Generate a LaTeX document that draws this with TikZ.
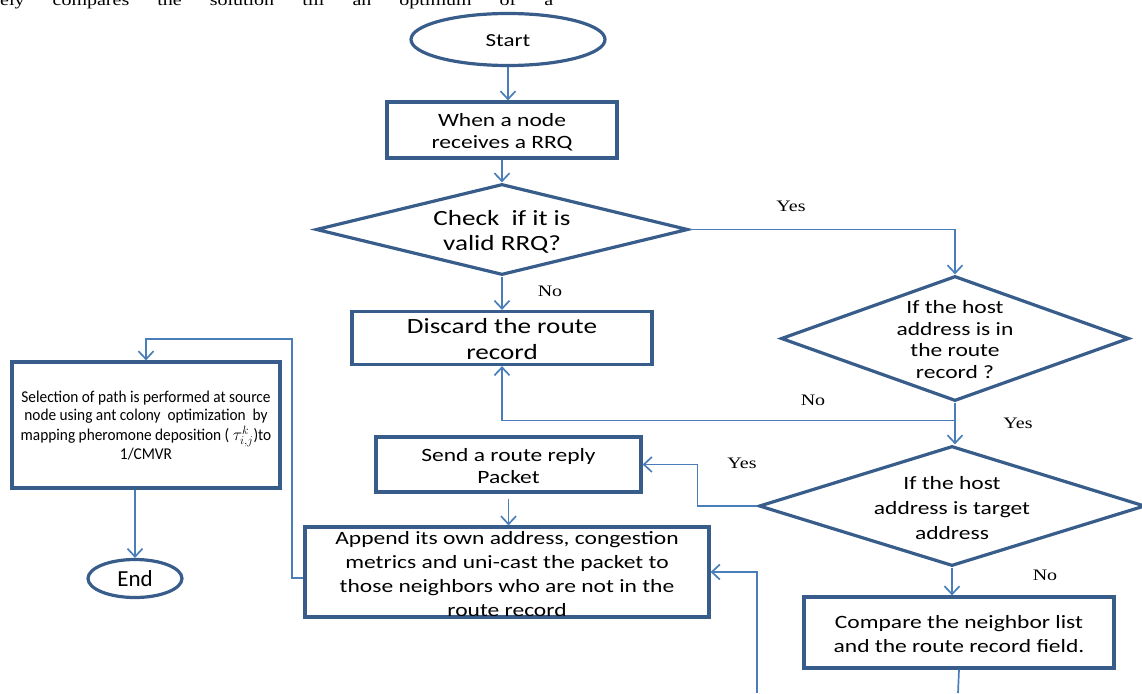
\documentclass[tikz,border=0pt]{standalone}
\usepackage{fontspec}
\usetikzlibrary{shapes.geometric,arrows.meta,calc}
\newfontfamily\nf[FakeStretch=1.25]{Carlito}
\newfontfamily\cf{Carlito}
\newfontfamily\condf[FakeStretch=0.93]{Carlito}
\newfontfamily\lf[FakeStretch=1.25]{Liberation Serif}
\definecolor{nodeblue}{HTML}{385D8A}
\definecolor{connblue}{HTML}{4A7EBB}
\newcommand{\ctr}[2]{\smash{\makebox[0pt]{#1\raisebox{-0.4em}{\begin{tabular}{@{}c@{}}#2\end{tabular}}}}}
\tikzset{
  proc/.style={rectangle, draw=nodeblue, line width=3.2pt, inner sep=0pt, fill=white},
  dia/.style={diamond, draw=nodeblue, line width=3.2pt, inner sep=0pt, fill=white},
  term/.style={ellipse, draw=nodeblue, line width=3.2pt, inner sep=0pt, fill=white},
  conn/.style={draw=connblue, line width=1.7pt, -{Straight Barb[length=8pt,width=15pt]}},
  connline/.style={draw=connblue, line width=1.7pt},
  lab/.style={inner sep=0pt, font=\fontsize{16}{18}\lf}
}
\begin{document}
\begin{tikzpicture}[x=1pt,y=-1pt]
\fill[white] (0,0) rectangle (1142,693);
\useasboundingbox (0,0) rectangle (1142,693);
\node[anchor=base west, inner sep=0pt, font=\fontsize{16}{18}\lf] (toptext) at (0,6) {\makebox[553pt][s]{ely compares the solution till an optimum of a}};
% nodes
\node[term, minimum width=194pt, minimum height=52pt] (start) at (508,39.5) {\ctr{\fontsize{18.4}{22}\nf}{Start}};
\node[proc, minimum width=230pt, minimum height=56pt] (b1) at (502,130) {\ctr{\fontsize{18.8}{22.4}\nf}{When a node\\receives a RRQ}};
\node[dia, minimum width=372pt, minimum height=91pt] (d1) at (502,229.5) {\ctr{\fontsize{21.7}{25}\nf}{Check\ \ if it is\\valid RRQ?}};
\node[proc, minimum width=300pt, minimum height=53pt] (b2) at (502,338) {\ctr{\fontsize{21.7}{25}\nf}{Discard the route\\record}};
\node[dia, minimum width=348pt, minimum height=125pt] (d2) at (955,338.5) {\ctr{\fontsize{18.8}{21.7}\nf}{If the host\\address is in\\the route\\record ?}};
\node[dia, minimum width=386pt, minimum height=120pt] (d3) at (952,506) {\ctr{\fontsize{18.8}{25}\nf}{If the host\\address is target\\address}};
\node[proc, minimum width=265pt, minimum height=55pt] (b3) at (508.5,464.5) {\ctr{\fontsize{18.8}{22}\nf}{Send a route reply\\Packet}};
\node[proc, minimum width=404pt, minimum height=90pt] (b4) at (507,572) {\ctr{\fontsize{18.8}{24}\nf}{Append its own address, congestion\\metrics and uni-cast the packet to\\those neighbors who are not in the\\route record}};
\node[proc, minimum width=310pt, minimum height=71pt] (b5) at (959,632.5) {\ctr{\fontsize{18.8}{24}\nf}{Compare the neighbor list\\and the route record field.}};
\node[proc, minimum width=268pt, minimum height=126pt] (b6) at (146,425) {\ctr{\fontsize{16.5}{18.3}\condf}{Selection of path is performed at source\\node using ant colony\ \ optimization\ \ by\\mapping pheromone deposition ( \(\tau^{k}_{i,j}\))to\\1/CMVR}};
\node[term, minimum width=94pt, minimum height=38pt] (end) at (135,578.5) {\ctr{\fontsize{23}{26}\cf}{End}};
% labels
\node[lab] (y1) at (791,206) {Yes};
\node[lab] (n1) at (550,291) {No};
\node[lab] (n2) at (813,400) {No};
\node[lab] (y2) at (1018,423) {Yes};
\node[lab] (y3) at (742,463) {Yes};
\node[lab] (n3) at (1045,575) {No};
% connectors
\coordinate (br) at ($(d2.south)+(0,18)$);
\coordinate (bot1) at (958,693);
\coordinate (bot2) at (757,693);
\coordinate (lp1) at (292,339);
\draw[conn] (start.south) -- (start.south |- b1.north);
\draw[conn] (b1.south) -- (d1.north);
\draw[conn] (d1.south) -- (b2.north);
\draw[conn] (d1.east) -| (d2.north);
\draw[conn] (d2.south) -- (d2.south |- d3.north);
\draw[conn] (br) -| (b2.south);
\draw[conn] (d3.west) -- ++(-60,0) |- (b3.east);
\draw[conn, shorten <=5pt] (b3.south) -- (b3.south |- b4.north);
\draw[conn] (d3.south) -- (d3.south |- b5.north);
\draw[connline] (b5.south) -- (bot1);
\draw[conn] (bot2) |- (b4.east);
\draw[conn] ($(b4.west)+(0,6)$) -| (lp1) -| (b6.north);
\draw[conn] (b6.south -| end.north) -- (end.north);
\end{tikzpicture}
\end{document}
